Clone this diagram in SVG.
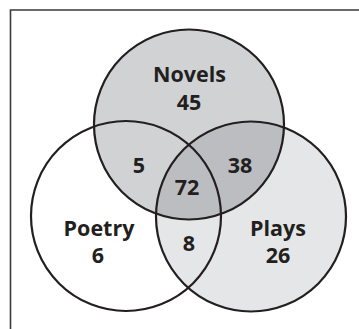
<svg xmlns="http://www.w3.org/2000/svg" width="359" height="329" viewBox="0 0 359 329">
<style>
.c{stroke:#231f20;stroke-width:2.2}
.t{font-family:"Open Sans","Liberation Sans",sans-serif;font-weight:bold;font-size:21.5px;fill:#231f20;text-anchor:middle}
</style>
<defs>
<clipPath id="clipPlays"><circle cx="251" cy="216.5" r="95"/></clipPath>
</defs>
<rect width="359" height="329" fill="#ffffff"/>
<path d="M10.5 329 V10 H359" fill="none" stroke="#3a3a3a" stroke-width="1.6"/>
<g id="poetry">
<circle cx="126" cy="216" r="95" fill="#ffffff"/>
</g>
<g id="plays">
<circle cx="251" cy="216.5" r="95" fill="#e5e6e7"/>
</g>
<g id="novels">
<circle cx="189" cy="124.5" r="95" fill="#d1d2d4"/>
<circle cx="189" cy="124.5" r="95" fill="#bcbdc0" clip-path="url(#clipPlays)"/>
</g>
<g id="connectors" fill="none">
<circle class="c" cx="126" cy="216" r="95"/>
<circle class="c" cx="251" cy="216.5" r="95"/>
<circle class="c" cx="189" cy="124.5" r="95"/>
</g>
<g id="labels">
<text class="t" x="189.5" y="82">Novels</text>
<text class="t" x="189" y="110">45</text>
<text class="t" x="139" y="173">5</text>
<text class="t" x="240" y="173">38</text>
<text class="t" x="187" y="195">72</text>
<text class="t" x="99" y="236">Poetry</text>
<text class="t" x="98" y="263">6</text>
<text class="t" x="189" y="251">8</text>
<text class="t" x="278" y="236">Plays</text>
<text class="t" x="278" y="263">26</text>
</g>
</svg>
